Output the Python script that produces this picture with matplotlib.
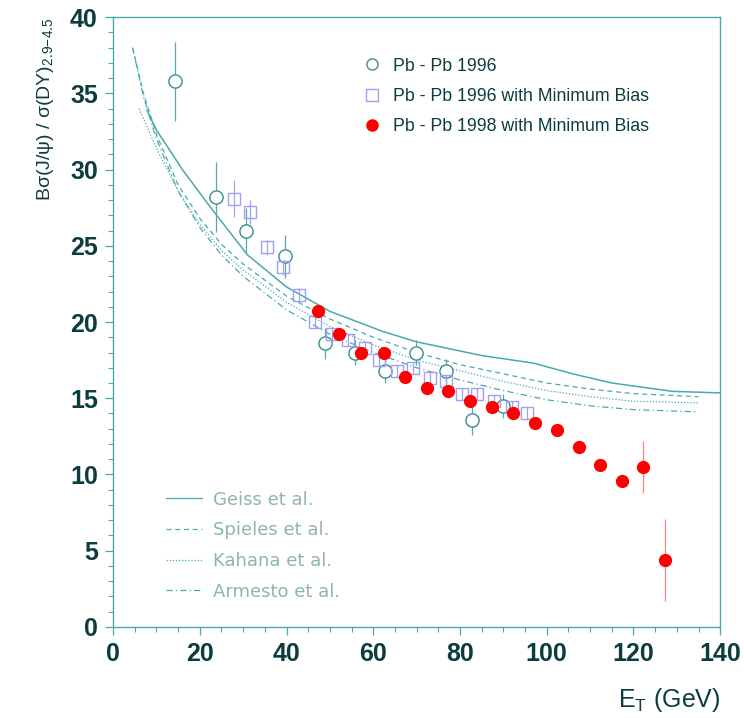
import numpy as np
import matplotlib
matplotlib.use("Agg")
import matplotlib.pyplot as plt
from matplotlib.lines import Line2D
from matplotlib.ticker import MultipleLocator

plt.rcParams['font.family'] = ['Liberation Sans', 'DejaVu Sans']
plt.rcParams['mathtext.fontset'] = 'custom'
plt.rcParams['mathtext.rm'] = 'Liberation Sans'
plt.rcParams['mathtext.it'] = 'Liberation Sans'

# Pb-Pb 1996 (open circles)
et_96 = [14.3, 23.8, 30.7, 39.7, 48.9, 55.8, 62.7, 69.9, 76.8, 82.8, 89.9]
r_96 = [35.8, 28.2, 26.0, 24.3, 18.6, 18.0, 16.8, 18.0, 16.8, 13.6, 14.5]
e_96 = [2.6, 2.3, 1.5, 1.4, 1.0, 0.8, 0.8, 0.8, 0.8, 1.0, 0.8]

# Pb-Pb 1996 with minimum bias (open squares)
et_96mb = [27.9, 31.6, 35.5, 39.2, 42.9, 46.6, 50.5, 54.2, 58.1, 61.3, 65.5,
           69.2, 73.1, 76.8, 80.5, 84.0, 87.9, 92.0, 95.5]
r_96mb = [28.1, 27.2, 24.9, 23.6, 21.8, 20.0, 19.2, 18.8, 18.3, 17.5, 16.8,
          17.0, 16.3, 16.1, 15.3, 15.3, 14.8, 14.4, 14.0]
e_96mb = [1.2, 0.8, 0.5, 0.5, 0.4, 0.4, 0.4, 0.4, 0.4, 0.4, 0.4,
          0.4, 0.4, 0.4, 0.4, 0.4, 0.4, 0.4, 0.4]

# Pb-Pb 1998 with minimum bias (red dots)
et_98 = [47.3, 52.1, 57.2, 62.5, 67.3, 72.4, 77.3, 82.3, 87.4, 92.3, 97.3,
         102.4, 107.5, 112.3, 117.4, 122.2, 127.3]
r_98 = [20.7, 19.2, 18.0, 18.0, 16.4, 15.7, 15.5, 14.8, 14.4, 14.0, 13.4,
        12.9, 11.8, 10.6, 9.6, 10.5, 4.4]
e_98 = [0.3, 0.3, 0.3, 0.3, 0.3, 0.3, 0.3, 0.3, 0.3, 0.3, 0.3,
        0.3, 0.3, 0.3, 0.3, 1.7, 2.7]

# model curves
geiss_x = [7.8, 10, 16, 22, 31, 40, 50, 62, 70, 75, 85, 97, 106, 115, 129, 140]
geiss_y = [33.9, 32.6, 30.0, 27.7, 24.4, 22.3, 20.7, 19.4, 18.7, 18.4, 17.8,
           17.3, 16.6, 16.0, 15.45, 15.35]
spieles_x = [4.5, 7, 10, 15, 20, 25, 30, 40, 50, 60, 70, 80, 90, 100, 110, 120, 135]
spieles_y = [38.0, 35.0, 32.3, 29.0, 26.8, 25.1, 23.8, 21.7, 20.2, 19.0, 18.0,
             17.2, 16.6, 16.0, 15.6, 15.3, 15.1]
kahana_x = [6, 10, 15, 20, 25, 30, 40, 50, 60, 70, 80, 90, 100, 110, 120, 135]
kahana_y = [34.0, 31.4, 28.6, 26.4, 24.7, 23.4, 21.3, 19.7, 18.5, 17.5, 16.8,
            16.1, 15.5, 15.1, 14.8, 14.7]
armesto_x = [4.5, 7, 10, 15, 20, 25, 30, 40, 50, 60, 70, 80, 90, 100, 110, 120, 135]
armesto_y = [38.0, 34.8, 32.0, 28.6, 26.2, 24.4, 23.0, 20.8, 19.2, 18.0, 17.0,
             16.2, 15.5, 14.9, 14.5, 14.25, 14.1]

teal = '#4aaaaa'
dark = '#0c3c3c'
grey = '#8fb3b3'

fig = plt.figure(figsize=(7.44, 7.18), dpi=100)
ax = fig.add_axes([0.152, 0.127, 0.816, 0.849])

lw_m = 0.9
ax.plot(geiss_x, geiss_y, color=teal, lw=1.1, ls='-')
ax.plot(spieles_x, spieles_y, color=teal, lw=lw_m, ls=(0, (4, 3)))
ax.plot(kahana_x, kahana_y, color=teal, lw=lw_m, ls=(0, (1, 1.5)))
ax.plot(armesto_x, armesto_y, color=teal, lw=lw_m, ls=(0, (5, 2.5, 1, 2.5)))

ax.errorbar(et_96, r_96, yerr=e_96, fmt='o', ms=9.5, mfc='white', mec='#3d8c8c',
            mew=1.0, ecolor='#5aa8a8', elinewidth=0.9, capsize=0, zorder=4)
ax.errorbar(et_96mb, r_96mb, yerr=e_96mb, fmt='s', ms=9, mfc='none', mec='#a0a0f0',
            mew=1.0, ecolor='#a0a0f0', elinewidth=0.9, capsize=0, zorder=5)
ax.errorbar(et_98, r_98, yerr=e_98, fmt='o', ms=8.5, mfc='#ff0000', mec='#ff0000',
            ecolor='#ff8080', elinewidth=0.9, capsize=0, zorder=6)

ax.set_xlim(0, 140)
ax.set_ylim(0, 40)
ax.xaxis.set_major_locator(MultipleLocator(20))
ax.xaxis.set_minor_locator(MultipleLocator(5))
ax.yaxis.set_major_locator(MultipleLocator(5))
ax.yaxis.set_minor_locator(MultipleLocator(1))
ax.tick_params(which='both', direction='out', color=teal, labelcolor=dark,
               labelsize=18, top=False, right=False)
ax.tick_params(which='major', length=6, width=0.9)
ax.tick_params(which='minor', length=3.5, width=0.8)
ax.tick_params(axis='y', pad=5)
ax.tick_params(axis='x', pad=5)
for lbl in ax.get_xticklabels() + ax.get_yticklabels():
    lbl.set_fontweight('bold')
for s in ax.spines.values():
    s.set_color(teal)
    s.set_linewidth(1.0)

ax.set_ylabel(r'B$\sigma$(J/$\psi$) / $\sigma$(DY)$_{2.9\!-\!4.5}$', loc='top',
              fontsize=14, color=dark, labelpad=10)
ax.set_xlabel(r'E$_{\rm T}$ (GeV)', loc='right', fontsize=18, color=dark, labelpad=14)

data_handles = [
    Line2D([], [], ls='none', marker='o', ms=8, mfc='white', mec='#3d8c8c'),
    Line2D([], [], ls='none', marker='s', ms=8, mfc='white', mec='#a0a0f0'),
    Line2D([], [], ls='none', marker='o', ms=8, mfc='#ff0000', mec='#ff0000'),
]
leg1 = ax.legend(data_handles, ['Pb - Pb 1996', 'Pb - Pb 1996 with Minimum Bias',
                                'Pb - Pb 1998 with Minimum Bias'],
                 loc='upper left', bbox_to_anchor=(0.385, 0.96), frameon=False,
                 fontsize=12.8, handletextpad=0.7, labelspacing=0.75,
                 handlelength=1.0, labelcolor=dark)
ax.add_artist(leg1)

model_handles = [
    Line2D([], [], color=teal, lw=0.9, ls='-'),
    Line2D([], [], color=teal, lw=0.9, ls=(0, (4, 3))),
    Line2D([], [], color=teal, lw=0.9, ls=(0, (1, 1.5))),
    Line2D([], [], color=teal, lw=0.9, ls=(0, (5, 2.5, 1, 2.5))),
]
leg2 = ax.legend(model_handles, ['Geiss et al.', 'Spieles et al.', 'Kahana et al.',
                                 'Armesto et al.'],
                 loc='upper left', bbox_to_anchor=(0.06, 0.25), frameon=False,
                 prop={'family': 'DejaVu Sans', 'size': 13}, handletextpad=0.6,
                 labelspacing=0.7, handlelength=2.0)
for t in leg2.get_texts():
    t.set_color(grey)

fig.savefig('out.png', dpi=100)
